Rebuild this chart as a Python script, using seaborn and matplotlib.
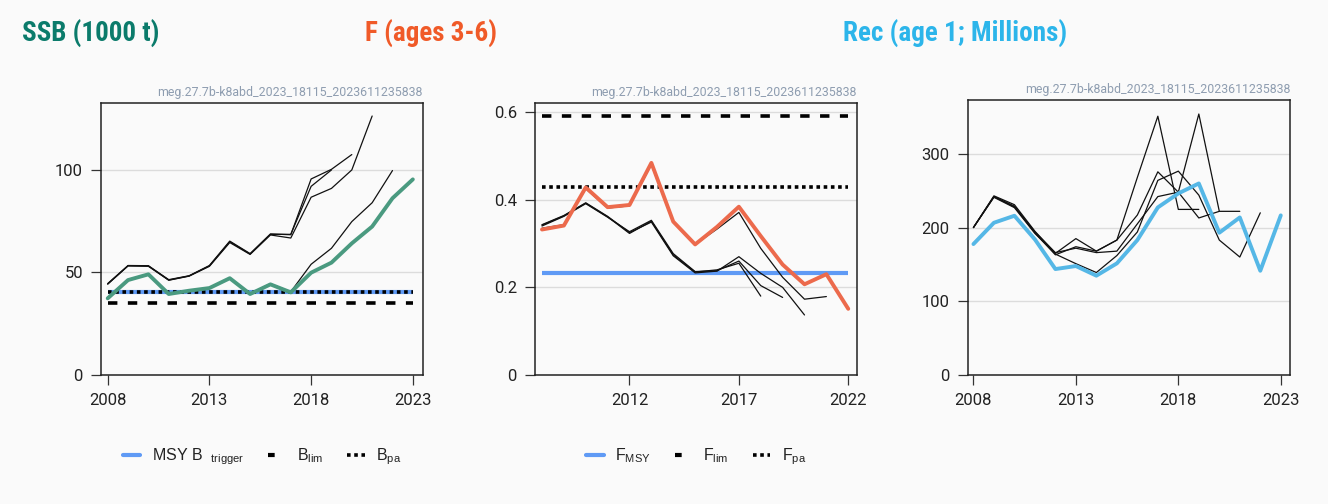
import numpy as np
import pandas as pd
import seaborn as sns
import matplotlib.pyplot as plt
from matplotlib.lines import Line2D

# --- data ------------------------------------------------------------------
years_ssb = list(range(2008, 2024))
ssb = [37.4, 46.3, 49.1, 39.5, 41.1, 42.4, 47.2, 39.5, 44.2, 40.3, 49.9, 54.8, 64.2, 72.4, 86.2, 95.4]
ssb_hist_2019 = [44.4, 53.3, 53.0, 46.3, 48.3, 53.2, 65.0, 59.0, 68.6, 68.6, 92.0, 100.0]
ssb_hist_2020 = [44.6, 53.4, 53.3, 46.5, 48.4, 53.4, 65.3, 59.2, 68.8, 68.4, 95.6, 100.3, 107.5]
ssb_hist_2021 = [44.3, 53.2, 53.2, 46.2, 48.2, 53.0, 64.6, 58.8, 68.3, 66.8, 86.7, 91.0, 100.0, 126.3]
ssb_hist_2022 = [37.8, 46.5, 49.0, 39.8, 41.3, 42.6, 47.0, 39.8, 44.5, 40.6, 54.0, 61.8, 74.8, 84.0, 99.7]
msy_btrigger = 40.6
b_pa = 40.6
b_lim = 35.3

years_f = list(range(2008, 2023))
f_main = [0.332, 0.341, 0.428, 0.383, 0.388, 0.484, 0.350, 0.298, 0.338, 0.384, 0.317, 0.252, 0.207, 0.230, 0.151]
f_hist_2018 = [0.342, 0.363, 0.392, 0.361, 0.323, 0.351, 0.274, 0.235, 0.240, 0.255, 0.180]
f_hist_2019 = [0.340, 0.362, 0.391, 0.360, 0.327, 0.353, 0.277, 0.236, 0.238, 0.260, 0.204, 0.177]
f_hist_2020 = [0.343, 0.364, 0.393, 0.362, 0.325, 0.349, 0.272, 0.233, 0.237, 0.270, 0.232, 0.200, 0.137]
f_hist_2021 = [0.335, 0.343, 0.425, 0.381, 0.386, 0.480, 0.348, 0.298, 0.333, 0.371, 0.289, 0.223, 0.173, 0.179]
f_msy = 0.233
f_pa = 0.43
f_lim = 0.592

years_rec = list(range(2008, 2024))
rec = [177.6, 206.5, 216.0, 183.9, 143.7, 147.8, 134.7, 151.4, 183.0, 227.3, 246.3, 259.8, 193.0, 213.7, 141.4, 216.5]
rec_hist_2019 = [200, 243, 231, 195, 165, 185, 168, 183, 268, 351, 224.6, 224.6]
rec_hist_2020 = [200, 242, 228, 193, 163, 174, 168, 183, 217, 275.6, 248, 213, 222]
rec_hist_2021 = [200, 242, 229, 194, 166, 172, 166, 168, 205, 242, 248, 354, 222, 222]
rec_hist_2022 = [200, 241, 227, 192, 164, 151, 139, 162, 194, 264, 276.5, 244, 183, 160, 220]

stamp = "meg.27.7b-k8abd_2023_18115_2023611235838"

# --- style -----------------------------------------------------------------
sns.set_theme(style="white")
plt.rcParams['font.family'] = ['Roboto', 'DejaVu Sans']
plt.rcParams['mathtext.fontset'] = 'custom'
plt.rcParams['mathtext.rm'] = 'Liberation Sans'

BG = '#fafafa'
REF_BLUE = '#5f9af5'
DASH = (2.6, 2.9)
DOT = (1, 1)

W, H = 1328, 504
fig = plt.figure(figsize=(W / 100, H / 100), dpi=100, facecolor=BG)


def make_ax(left, top, right, bottom):
    ax = fig.add_axes([left / W, 1 - bottom / H, (right - left) / W, (bottom - top) / H])
    ax.set_facecolor(BG)
    for s in ax.spines.values():
        s.set_color('#222222')
        s.set_linewidth(1.1)
    ax.yaxis.grid(True, color='#dcdcdc', lw=1)
    ax.set_axisbelow(True)
    ax.tick_params(axis='both', direction='out', length=7, width=0.9, color='#333333',
                   labelsize=12, labelcolor='#222222', bottom=True, left=True, pad=6)
    ax.text(1.0, 1.015, stamp, transform=ax.transAxes, ha='right', va='bottom',
            fontsize=8.9, color='#8e9db0')
    ax.set_xlabel('')
    ax.set_ylabel('')
    return ax


def hist_lines(ax, years, series):
    for s in series:
        sns.lineplot(x=years[:len(s)], y=s, ax=ax, color='#111111', lw=0.9, legend=False)


# SSB
ax1 = make_ax(101, 103.3, 423, 375)
ax1.hlines(msy_btrigger, years_ssb[0], years_ssb[-1], color=REF_BLUE, lw=3)
ax1.hlines(b_pa, years_ssb[0], years_ssb[-1], color='black', lw=2.6, linestyles=[(0, DOT)])
ax1.hlines(b_lim, years_ssb[0], years_ssb[-1], color='black', lw=2.6, linestyles=[(0, DASH)])
hist_lines(ax1, years_ssb, [ssb_hist_2019, ssb_hist_2020, ssb_hist_2021, ssb_hist_2022])
sns.lineplot(x=years_ssb, y=ssb, ax=ax1, color='#4a9a80', lw=2.8, legend=False)
ax1.set_xlim(2007.67, 2023.5)
ax1.set_ylim(0, 132.5)
ax1.set_xticks([2008, 2013, 2018, 2023])
ax1.set_yticks([0, 50, 100])

# F
ax2 = make_ax(535, 103.3, 857, 375)
ax2.hlines(f_lim, years_f[0], years_f[-1], color='black', lw=2.6, linestyles=[(0, DASH)])
ax2.hlines(f_pa, years_f[0], years_f[-1], color='black', lw=2.6, linestyles=[(0, DOT)])
ax2.hlines(f_msy, years_f[0], years_f[-1], color=REF_BLUE, lw=3)
hist_lines(ax2, years_f, [f_hist_2018, f_hist_2019, f_hist_2020, f_hist_2021])
sns.lineplot(x=years_f, y=f_main, ax=ax2, color='#ec6a4c', lw=2.8, legend=False)
ax2.set_xlim(2007.68, 2022.4)
ax2.set_ylim(0, 0.62)
ax2.set_xticks([2012, 2017, 2022])
ax2.set_yticks([0, 0.2, 0.4, 0.6])
ax2.set_yticklabels(['0', '0.2', '0.4', '0.6'])

# Recruitment
ax3 = make_ax(967.7, 100, 1290, 375)
hist_lines(ax3, years_rec, [rec_hist_2019, rec_hist_2020, rec_hist_2021, rec_hist_2022])
sns.lineplot(x=years_rec, y=rec, ax=ax3, color='#55b7e6', lw=2.8, legend=False)
ax3.set_xlim(2007.72, 2023.45)
ax3.set_ylim(0, 373)
ax3.set_xticks([2008, 2013, 2018, 2023])
ax3.set_yticks([0, 100, 200, 300])

# legends
leg_kw = dict(loc='center', bbox_to_anchor=(0.5, -0.30), ncol=3, frameon=False,
              handlelength=1.1, handletextpad=0.7, columnspacing=1.5,
              prop={'family': 'Liberation Sans', 'size': 11.5})
h_blue = Line2D([], [], color=REF_BLUE, lw=3)
h_dash = Line2D([], [], color='black', lw=3, dashes=(1.6, 10))
h_dot = Line2D([], [], color='black', lw=2.6, dashes=DOT)
leg1 = ax1.legend([h_blue, h_dash, h_dot],
                  [r'MSY B  $_{\mathregular{trigger}}$', r'B$_{\mathregular{lim}}$', r'B$_{\mathregular{pa}}$'],
                  **leg_kw)
leg2 = ax2.legend([h_blue, h_dash, h_dot],
                  [r'F$_{\mathregular{MSY}}$', r'F$_{\mathregular{lim}}$', r'F$_{\mathregular{pa}}$'],
                  **leg_kw)
for lg in (leg1, leg2):
    for t in lg.get_texts():
        t.set_color('#222222')

# titles
title_kw = dict(fontsize=19.5, fontweight='bold', va='baseline', ha='left',
                family=['Liberation Sans Narrow', 'Roboto Condensed', 'Open Sans'])
fig.text(22 / W, 1 - 42 / H, 'SSB (1000 t)', color='#0b7b6b', **title_kw)
fig.text(365 / W, 1 - 42 / H, 'F (ages 3-6)', color='#f05a28', **title_kw)
fig.text(843 / W, 1 - 42 / H, 'Rec (age 1; Millions)', color='#2cb5ea', **title_kw)

fig.savefig('out.png', dpi=100, facecolor=BG)
